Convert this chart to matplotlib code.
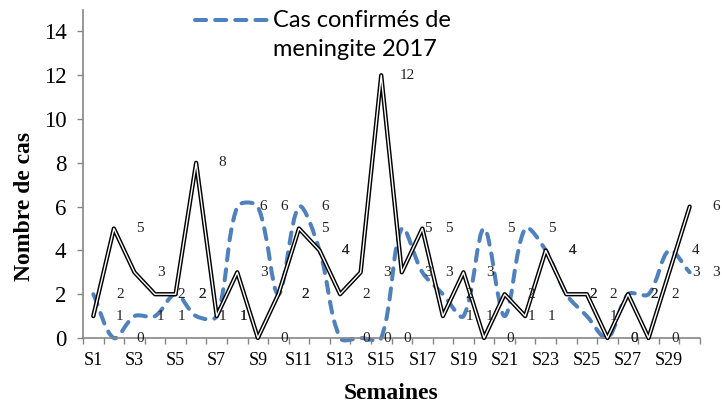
import matplotlib
matplotlib.use("Agg")
import math
import matplotlib.pyplot as plt
from matplotlib.path import Path
from matplotlib.patches import PathPatch
from matplotlib.lines import Line2D

semaines = [f"S{i}" for i in range(1, 31)]
cas_total = [1, 5, 3, 2, 2, 8, 1, 3, 0, 2, 5, 4, 2, 3, 12,
             3, 5, 1, 3, 0, 2, 1, 4, 2, 2, 0, 2, 0, 3, 6]
cas_confirmes = [2, 0, 1, 1, 2, 1, 1, 6, 6, 2, 6, 4, 0, 0, 0,
                 5, 3, 2, 1, 5, 1, 5, 4, 2, 1, 0, 2, 2, 4, 3]
y_ticks = [0, 2, 4, 6, 8, 10, 12, 14]
legend_label = "Cas confirmés de\nmeningite 2017"

plt.rcParams['lines.scale_dashes'] = False
serif = 'Liberation Serif'
blue = '#4F81BD'
axis_grey = '#868686'


def smooth_path(ax, xs, ys):
    # excel-like smoothed line: bezier segments, tangents weighted by
    # neighbouring segment lengths measured on screen
    pts = [tuple(p) for p in ax.transData.transform(list(zip(xs, ys)))]
    n = len(pts)

    def dist(a, b):
        return math.hypot(b[0] - a[0], b[1] - a[1])

    ctrl_in, ctrl_out = [], []
    for i in range(n):
        prev = pts[max(i - 1, 0)]
        nxt = pts[min(i + 1, n - 1)]
        tx, ty = nxt[0] - prev[0], nxt[1] - prev[1]
        d_prev = dist(prev, pts[i])
        d_next = dist(pts[i], nxt)
        tot = d_prev + d_next
        k_in = d_prev / tot / 3 if tot else 0
        k_out = d_next / tot / 3 if tot else 0
        ctrl_in.append((pts[i][0] - tx * k_in, pts[i][1] - ty * k_in))
        ctrl_out.append((pts[i][0] + tx * k_out, pts[i][1] + ty * k_out))

    verts = [pts[0]]
    codes = [Path.MOVETO]
    for i in range(n - 1):
        verts += [ctrl_out[i], ctrl_in[i + 1], pts[i + 1]]
        codes += [Path.CURVE4] * 3
    return Path(verts, codes)


fig = plt.figure(figsize=(7.22, 4.07), dpi=100, facecolor='white')
ax = fig.add_axes([0.115, 0.1695, 0.8545, 0.807])

x = list(range(1, len(semaines) + 1))
ax.set_xlim(0.5, len(x) + 0.5)
ax.set_ylim(0, 15)

dash_style = (0, (8, 6.5))

# path is built in display pixels, so it gets no extra transform
blue_patch = PathPatch(smooth_path(ax, x, cas_confirmes), fill=False,
                       edgecolor=blue, lw=2.9, linestyle=dash_style,
                       capstyle='round', joinstyle='round',
                       transform=None, clip_on=False, zorder=2)
ax.add_artist(blue_patch)

ax.plot(x, cas_total, color='black', lw=3.1, solid_joinstyle='round',
        solid_capstyle='round', zorder=3, clip_on=False)
ax.plot(x, cas_total, color='white', lw=1.0, solid_joinstyle='round',
        solid_capstyle='round', zorder=4, clip_on=False)

for xi, a, b in zip(x, cas_total, cas_confirmes):
    for v in (a, b):
        ax.annotate(str(v), (xi, v), xytext=(19, 0), textcoords='offset points',
                    ha='center', va='center', fontsize=11, family=serif,
                    color='#222222', zorder=5, annotation_clip=False)

ax.set_yticks(y_ticks)
ax.set_yticklabels([str(t) for t in y_ticks], family=serif, fontsize=16.5)
ax.tick_params(axis='y', direction='out', length=4, width=1, color=axis_grey,
               pad=8)

ax.set_xticks([i + 0.5 for i in range(0, len(x) + 1)])
ax.set_xticklabels([])
ax.set_xticks(x[::2], minor=True)
ax.set_xticklabels(semaines[::2], minor=True, family=serif, fontsize=13)
ax.tick_params(axis='x', which='major', direction='out', length=4, width=1,
               color=axis_grey)
ax.tick_params(axis='x', which='minor', length=0, pad=10)

for side in ('top', 'right'):
    ax.spines[side].set_visible(False)
for side in ('left', 'bottom'):
    ax.spines[side].set_color(axis_grey)
    ax.spines[side].set_linewidth(1.2)

ax.set_xlabel('Semaines', family=serif, fontsize=17, fontweight='bold')
ax.xaxis.set_label_coords(0.5, -0.137)
ax.set_ylabel('Nombre de cas', family=serif, fontsize=17, fontweight='bold')
ax.yaxis.set_label_coords(-0.078, 0.40)

# legend (only the confirmed cases series), handle aligned with first line
fig.add_artist(Line2D([195 / 722, 268 / 722], [1 - 20 / 407, 1 - 20 / 407],
                      color=blue, lw=2.9, linestyle=dash_style,
                      dash_capstyle='round'))
fig.text(273 / 722, 1 - 10 / 407, legend_label, ha='left', va='top',
         family='Lato', fontsize=17, linespacing=1.5, color='black')

fig.savefig('out.png', dpi=100, facecolor='white')
